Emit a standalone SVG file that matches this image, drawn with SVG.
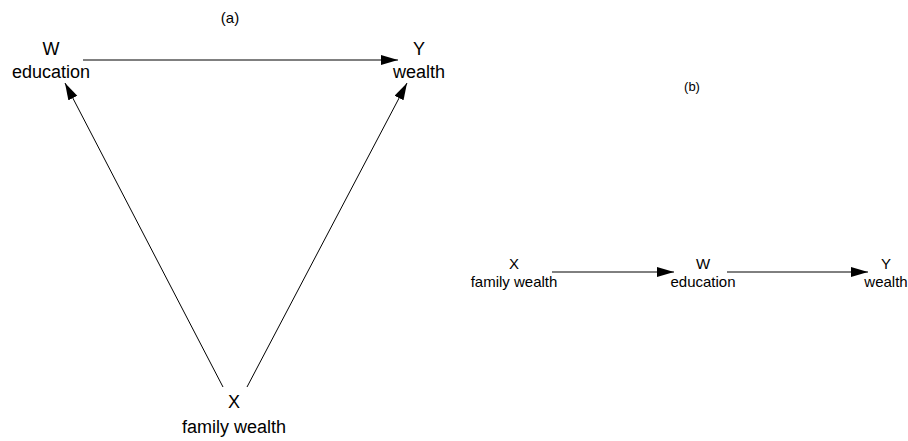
<svg xmlns="http://www.w3.org/2000/svg" width="908" height="441" viewBox="0 0 908 441">
<defs>
<style>
.t{font-family:"Liberation Sans",Arial,sans-serif;fill:#000;text-anchor:middle}
.a{font-size:18px}
.b{font-size:15px}
.e{stroke:#000;stroke-width:1;fill:none;marker-end:url(#ah)}
</style>
<marker id="ah" markerUnits="userSpaceOnUse" markerWidth="18" markerHeight="11" refX="17" refY="5" orient="auto">
<path d="M0,0 L17,5 L0,10 z" fill="#000"/>
</marker>
</defs>
<rect width="908" height="441" fill="#fff"/>
<text class="t" x="230" y="23" font-size="15">(a)</text>
<text class="t" x="692" y="91" font-size="13">(b)</text>
<g id="connectors">
<line class="e" x1="83" y1="60" x2="398" y2="60"/>
<line class="e" x1="223" y1="387" x2="65" y2="83"/>
<line class="e" x1="247" y1="387" x2="407" y2="83"/>
<line class="e" x1="552" y1="272" x2="674" y2="272"/>
<line class="e" x1="727" y1="272" x2="868" y2="272"/>
</g>
<g id="a-W"><text class="t a" x="51" y="55">W</text><text class="t a" x="51" y="78">education</text></g>
<g id="a-Y"><text class="t a" x="419" y="55">Y</text><text class="t a" x="419" y="78">wealth</text></g>
<g id="a-X"><text class="t a" x="234" y="408">X</text><text class="t a" x="234" y="433">family wealth</text></g>
<g id="b-X"><text class="t b" x="514" y="269">X</text><text class="t b" x="514" y="287">family wealth</text></g>
<g id="b-W"><text class="t b" x="703" y="269">W</text><text class="t b" x="703" y="287">education</text></g>
<g id="b-Y"><text class="t b" x="886" y="269">Y</text><text class="t b" x="886" y="287">wealth</text></g>
</svg>
